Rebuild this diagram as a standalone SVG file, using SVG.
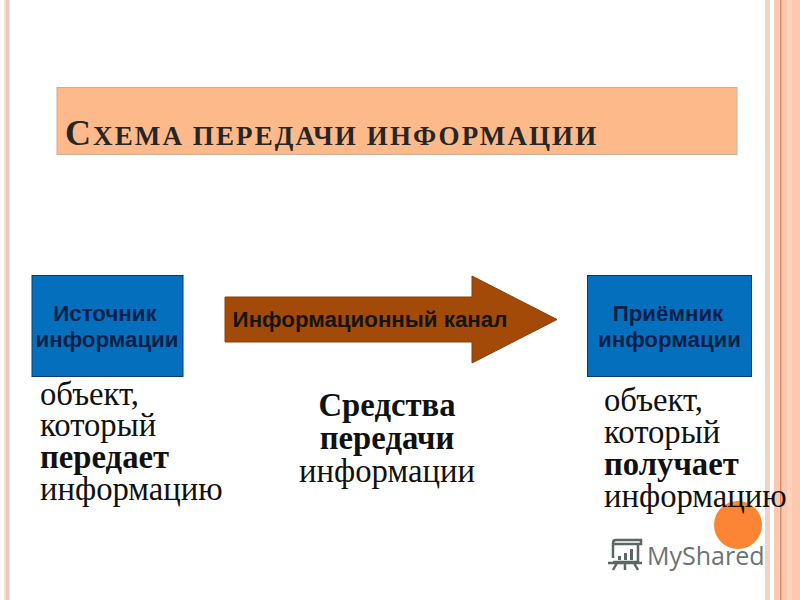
<svg xmlns="http://www.w3.org/2000/svg" width="800" height="600" viewBox="0 0 800 600">
<style>
.box{fill:#0470bd;stroke:#0b3a66;stroke-width:1}
.lbl{font-family:"Liberation Sans",Arial,sans-serif;font-weight:bold;fill:#0a1f4a;text-anchor:middle;font-size:22.3px}
.txt{font-family:"Liberation Serif","Times New Roman",serif;font-size:32.7px;fill:#111}
.b{font-weight:bold}
</style>
<rect width="800" height="600" fill="#ffffff"/>
<g id="border-left">
<rect x="4" y="0" width="6" height="600" fill="#f6e3d6"/>
<rect x="6" y="0" width="3" height="600" fill="#ecc9c0"/>
</g>
<g id="border-right">
<rect x="765" y="0" width="5" height="600" fill="#ecd5c8"/>
<rect x="774" y="0" width="26" height="600" fill="#fcc8ae"/>
<rect x="780" y="0" width="1.5" height="600" fill="#e08a68"/>
<rect x="787" y="0" width="5" height="600" fill="#fdd2bc"/>
</g>
<g id="title">
<rect x="57" y="87.500" width="680" height="67" fill="#fdb98a" stroke="#c8b09a" stroke-width="1"/>
<text x="65" y="145" font-family="Liberation Serif,Times New Roman,serif" font-weight="bold" font-size="27" fill="#262626" letter-spacing="2.100"><tspan font-size="36">С</tspan>ХЕМА ПЕРЕДАЧИ ИНФОРМАЦИИ</text>
</g>
<g id="source">
<rect class="box" x="32" y="275.500" width="151" height="101"/>
<text class="lbl" x="105" y="321">Источник</text>
<text class="lbl" x="107" y="347">информации</text>
</g>
<g id="connectors">
<g id="channel">
<path d="M225 297H472V276L557 319.500L472 363V342H225Z" fill="#a44a08" stroke="#8a3e08" stroke-width="1"/>
<text x="370" y="327" font-family="Liberation Sans,Arial,sans-serif" font-weight="bold" font-size="22.300" fill="#151515" text-anchor="middle">Информационный канал</text>
</g>
</g>
<g id="receiver">
<rect class="box" x="587.500" y="275.500" width="164" height="101"/>
<text class="lbl" x="668" y="321">Приёмник</text>
<text class="lbl" x="669.500" y="347">информации</text>
</g>
<circle id="dot" cx="738" cy="525" r="24" fill="#fb8534"/>
<g id="source-text">
<text class="txt" x="40" y="405">объект,</text>
<text class="txt" x="40" y="436">который</text>
<text class="txt b" x="40" y="468">передает</text>
<text class="txt" x="40" y="500">информацию</text>
</g>
<g id="channel-text">
<text class="txt b" x="387" y="416" text-anchor="middle">Средства</text>
<text class="txt b" x="387" y="449" text-anchor="middle">передачи</text>
<text class="txt" x="387" y="482" text-anchor="middle">информации</text>
</g>
<g id="receiver-text">
<text class="txt" x="604" y="411">объект,</text>
<text class="txt" x="604" y="443">который</text>
<text class="txt b" x="604" y="475">получает</text>
<text class="txt" x="604" y="507">информацию</text>
</g>
<g id="logo">
<g fill="none" stroke="#5c6664" stroke-width="2.500">
<path d="M613 558V543Q613 540 616 540H641V544H613M638 544V562H613"/>
<path d="M608 563H642M617 563L613 570M634 563L638 570M625 563V570"/>
</g>
<rect x="618" y="556" width="3" height="4" fill="#5c6664"/>
<rect x="624" y="553" width="3" height="7" fill="#5c6664"/>
<rect x="630" y="549" width="3" height="11" fill="#5c6664"/>
<text x="647" y="565" font-family="Open Sans,Liberation Sans,sans-serif" font-size="25" fill="#6b7472">MyShared</text>
</g>
</svg>
